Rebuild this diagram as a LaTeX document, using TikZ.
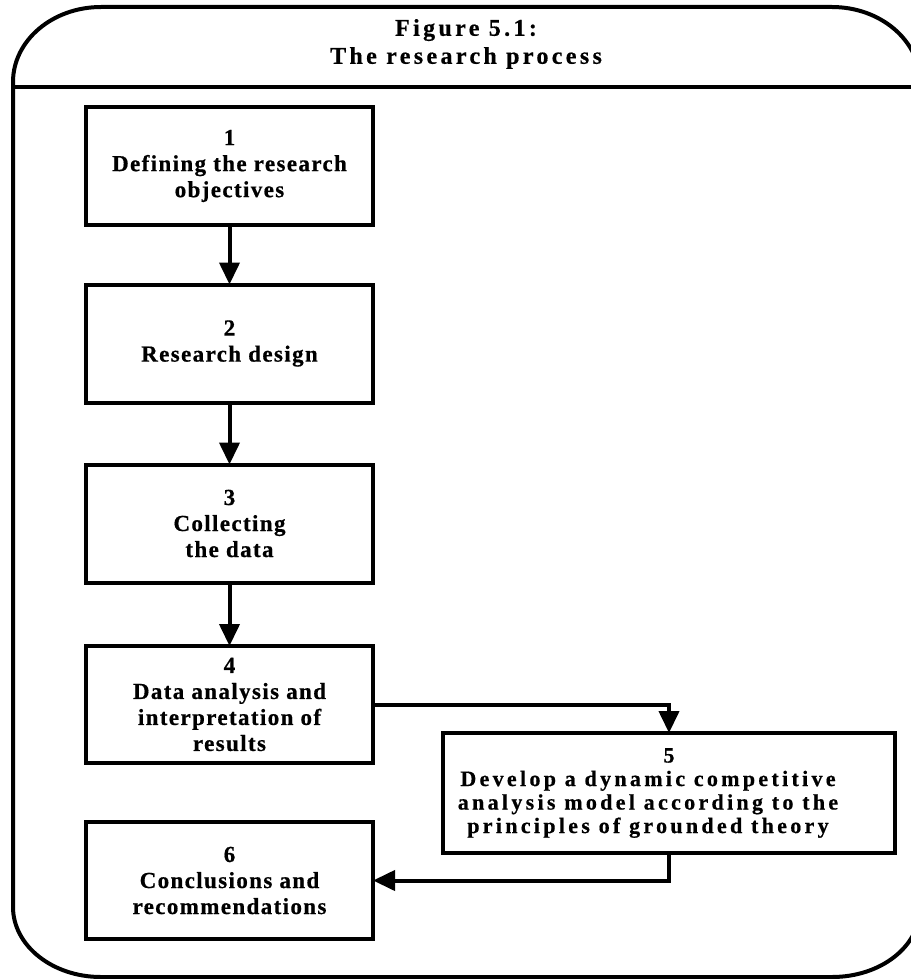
\documentclass[tikz,border=0pt]{standalone}
\usepackage{fontspec}
\setmainfont{Liberation Serif}
% spaced-out heavy serif used throughout the chart
\newfontfamily\stepfont{Liberation Serif}[LetterSpace=6,BoldFeatures={FakeBold=0.6}]
\newfontfamily\widestepfont{Liberation Serif}[LetterSpace=15,BoldFeatures={FakeBold=0.6}]
\newfontfamily\headfont{Liberation Serif}[LetterSpace=14,BoldFeatures={FakeBold=0.6}]
\usetikzlibrary{arrows.meta}
% a text line set a little left of the centre line
\newcommand\offsetline[1]{\hbox{#1\kern42pt}}
\begin{document}
\begin{tikzpicture}[x=1pt,y=-1pt,
  stepbox/.style={draw, line width=4pt, inner sep=0pt, outer sep=0pt,
    minimum width=287pt, minimum height=118pt, align=center,
    font=\stepfont\bfseries\fontsize{23}{26}\selectfont},
  widebox/.style={stepbox, minimum width=452pt, minimum height=120pt,
    font=\widestepfont\bfseries\fontsize{22}{23.5}\selectfont},
  flow/.style={line width=4pt, -{Triangle[length=22pt,width=20pt]}},
  frameline/.style={line width=4pt, line join=round}]
\useasboundingbox (0,0) rectangle (910,979);

% outer frame with large elliptical corners
\draw[frameline] (13,907) -- (13,82)
  .. controls (13,40.6) and (52.4,7) .. (101,7)
  -- (832,7)
  .. controls (880.6,7) and (920,40.6) .. (920,82)
  -- (920,908)
  .. controls (920,946.6) and (880.6,977) .. (832,977)
  -- (101,977)
  .. controls (52.4,977) and (13,945.6) .. (13,907) -- cycle;
% heading separator
\draw[frameline] (13,87) -- (920,87);

\node[align=center, font=\headfont\bfseries\fontsize{24}{28}\selectfont]
  (title) at (466,44) {Figure 5.1:\\The research process};

% process steps
\node[stepbox] (s1) at (229.5,166) {1\\Defining the research\\objectives};
\node[stepbox] (s2) at (229.5,343.5) {2\\Research design};
\node[stepbox] (s3) at (229.5,523.5) {3\\Collecting\\the data};
\node[stepbox, minimum height=117pt] (s4) at (229.5,704.5)
  {4\\Data analysis and\\interpretation of\\results};
\node[widebox] (s5) at (669,793)
  {5\\\offsetline{Develop a dynamic competitive}\\\offsetline{analysis model according to the}\\\offsetline{principles of grounded theory}};
\node[stepbox, minimum height=117pt] (s6) at (229.5,880.5)
  {6\\Conclusions and\\recommendations};

% connectors
\draw[flow] (s1) -- (s2);
\draw[flow] (s2) -- (s3);
\draw[flow] (s3) -- (s4);
\draw[flow] (s4.east) -| (s5.north);
\draw[flow] (s5.south) |- (s6.east);
\end{tikzpicture}
\end{document}
